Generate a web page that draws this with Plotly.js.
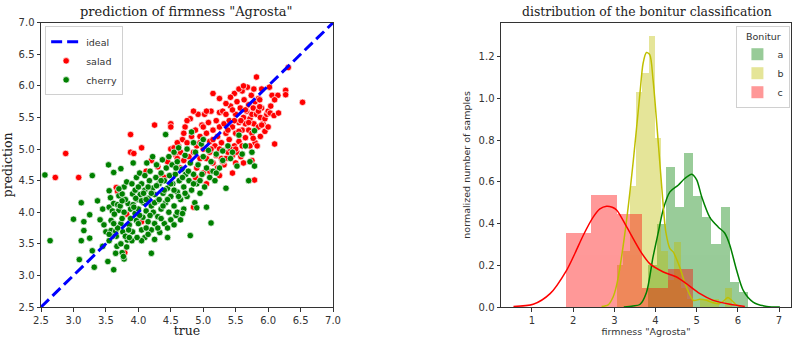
<!DOCTYPE html>
<html><head><meta charset="utf-8">
<script src="https://cdn.plot.ly/plotly-3.0.1.min.js"></script>
<style>html,body{margin:0;padding:0;background:#fff}#chart{width:792px;height:338px}</style>
</head><body><div id="chart"></div>
<script>
// ---------- left panel: prediction vs true ----------
const idealLine = [2.5, 7.0];
const saladPoints = [
[2.72,4.55],[2.88,4.93],[3.08,4.55],[3.66,4.39],[3.68,4.33],[3.79,3.36],[3.82,3.97],[3.88,5.23],[3.88,4.95],[3.93,4.93],
[4.05,5.02],[4.05,3.85],[4.25,5.38],[4.5,5.4],[4.5,5.35],[4.12,4.65],[4.2,4.82],[4.3,4.72],[4.35,4.6],[4.4,4.55],
[4.45,4.8],[4.5,5.0],[4.55,5.02],[4.58,4.9],[4.6,4.85],[4.62,5.05],[4.65,4.95],[4.65,4.7],[4.68,5.15],[4.7,4.82],
[4.72,5.35],[4.75,5.1],[4.78,4.88],[4.8,5.48],[4.82,5.2],[4.85,4.08],[4.85,4.95],[4.88,5.3],[4.9,5.05],[4.9,4.7],
[4.92,5.55],[4.95,5.2],[4.95,4.85],[4.98,5.38],[5.0,5.0],[5.0,4.62],[5.02,5.55],[5.05,5.25],[5.05,4.85],[5.08,5.42],
[5.1,5.12],[5.1,4.95],[5.12,5.6],[5.15,5.88],[5.15,5.3],[5.15,4.78],[5.18,5.05],[5.2,5.45],[5.2,4.9],[5.22,5.2],
[5.25,5.8],[5.25,5.58],[5.25,5.35],[5.28,4.85],[5.28,5.1],[5.3,5.6],[5.32,5.4],[5.32,4.75],[5.35,5.25],[5.35,5.55],
[5.38,4.95],[5.4,5.15],[5.4,5.45],[5.42,5.68],[5.45,5.35],[5.45,4.9],[5.48,5.05],[5.48,5.88],[5.5,5.55],[5.5,5.25],
[5.52,4.95],[5.52,5.75],[5.55,5.42],[5.55,5.12],[5.57,5.65],[5.58,4.88],[5.6,5.3],[5.6,5.92],[5.62,5.5],[5.63,5.78],
[5.65,5.18],[5.65,5.4],[5.67,5.6],[5.68,5.98],[5.7,5.3],[5.7,5.7],[5.72,5.48],[5.72,5.05],[5.74,5.85],[5.75,5.55],
[5.75,5.25],[5.77,5.65],[5.78,5.4],[5.79,4.51],[5.8,5.75],[5.8,5.1],[5.82,6.14],[5.82,5.55],[5.85,5.35],[5.85,5.8],
[5.88,5.5],[5.88,5.2],[5.9,5.65],[5.92,5.4],[5.95,5.28],[5.95,5.48],[5.98,5.55],[6.0,5.6],[6.02,5.98],[6.03,5.57],
[6.04,5.68],[6.06,5.85],[6.09,5.53],[6.10,5.08],[6.16,5.57],[6.15,5.85],[6.27,5.93],[6.27,5.86],[6.31,6.29],[6.53,5.74],
[5.45,5.62],[5.35,5.72],[5.6,5.05],[5.42,5.0],[5.05,5.6],[5.0,5.35],[4.95,5.1],[5.12,5.0],[5.3,4.98],[5.55,5.28],
[5.65,5.62],[5.7,5.42],[5.85,5.6],[5.58,5.45],[5.38,5.3],[5.48,5.45],[5.25,5.0],[5.15,5.15],[4.85,5.6],[4.75,5.45],
[4.6,5.1],[4.7,5.25],[5.1,4.65],[5.22,4.7],[4.95,4.52],[5.05,4.45],[4.88,4.55],[5.35,4.85],[5.75,4.82],[5.62,4.78],
[5.5,5.0],[5.78,5.95],[5.55,5.95],[5.42,5.82],[5.62,6.0],[5.9,5.95],[6.1,5.78],[6.0,5.35],[5.83,5.05],[5.77,5.17],
[5.87,5.67],[5.87,5.78],[5.90,5.38],[5.3,4.8],[5.45,4.62],[5.5,4.78],[5.25,4.58]
];
const cherryPoints = [
[2.56,4.59],[2.64,3.55],[3.0,3.89],[3.09,3.25],[3.12,4.15],[3.12,3.55],[3.16,3.85],[3.16,3.71],[3.25,3.96],[3.25,3.59],
[3.29,3.39],[3.29,4.58],[3.32,3.13],[3.37,4.18],[3.41,3.88],[3.45,4.05],[3.47,3.80],[3.45,3.46],[3.50,3.69],[3.53,3.22],
[3.54,4.75],[3.55,4.34],[3.55,4.08],[3.57,4.23],[3.58,3.87],[3.60,3.69],[3.62,4.63],[3.62,4.14],[3.62,3.09],[3.66,3.62],
[3.67,3.46],[3.70,4.03],[3.70,4.26],[3.73,4.69],[3.73,3.82],[3.75,4.29],[3.76,3.69],[3.78,3.26],[3.83,3.56],[3.84,4.14],
[3.86,3.80],[3.91,4.29],[3.91,3.69],[3.92,4.78],[3.97,3.87],
[3.58,3.71],[3.6,3.62],[3.65,3.7],[3.68,3.75],[3.55,3.65],[3.6,4.02],[3.63,3.97],[3.68,4.12],[3.72,4.1],[3.75,3.9],
[3.78,4.0],[3.78,4.4],[3.8,3.62],[3.8,4.2],[3.82,4.48],[3.82,3.45],[3.85,3.72],[3.88,4.05],[3.88,3.9],[3.9,3.55],
[3.9,4.45],[3.75,3.36],[3.77,3.3],[3.65,3.35],[3.55,3.55],[3.62,3.82],[3.7,4.37],[3.75,4.18],[3.86,3.6],[3.73,3.5],
[3.92,4.12],[3.95,4.35],[3.95,3.98],[3.97,4.55],[3.98,4.2],[4.0,3.82],[4.0,4.05],[4.02,4.62],[4.03,4.28],[4.05,3.72],
[4.05,4.45],[4.07,3.92],[4.08,4.15],[4.1,4.35],[4.1,4.58],[4.1,3.6],[4.12,4.02],[4.13,4.78],[4.15,4.22],[4.15,3.85],
[4.17,4.5],[4.18,4.65],[4.2,3.35],[4.2,3.72],[4.2,4.1],[4.22,4.38],[4.22,4.88],[4.23,4.0],[4.25,3.57],[4.25,4.28],
[4.27,4.55],[4.28,4.75],[4.3,3.93],[4.3,4.18],[4.32,4.45],[4.33,3.68],[4.35,4.62],[4.35,4.05],[4.37,4.83],[4.38,4.3],
[4.4,3.82],[4.4,4.5],[4.42,5.23],[4.42,4.15],[4.43,4.7],[4.45,3.6],[4.45,4.38],[4.47,4.0],[4.47,4.88],[4.48,4.58],
[4.5,4.25],[4.5,3.88],[4.52,4.75],[4.53,4.45],[4.55,4.1],[4.55,4.95],[4.57,4.6],[4.58,3.95],[4.6,4.32],[4.6,4.8],
[4.62,5.02],[4.63,4.5],[4.65,4.2],[4.65,3.88],[4.67,4.68],[4.7,4.4],[4.7,4.05],[4.72,4.9],[4.73,4.6],[4.75,4.25],
[4.75,5.0],[4.78,4.5],[4.8,3.63],[4.8,4.78],[4.82,5.27],[4.82,4.35],[4.85,4.6],[4.87,4.15],[4.88,4.95],[4.9,4.07],
[4.9,4.45],[4.92,4.75],[4.95,4.3],[4.97,5.08],[4.98,4.6],[5.0,4.88],[5.02,4.4],[5.05,4.08],[5.05,4.7],[5.08,4.98],
[5.1,4.55],[5.12,3.83],[5.12,4.8],[5.15,4.65],[5.18,4.5],[5.2,4.92],[5.25,4.7],[5.3,4.82],[5.35,4.38],[5.38,5.05],
[5.42,4.85],[5.45,4.95],[5.52,4.73],[5.55,5.22],[5.6,4.92],[5.65,5.05],[5.7,4.5],[5.72,4.8],[5.75,4.95],[5.79,4.73],
[5.79,5.29],[5.3,4.97],[5.2,4.62],[5.0,5.15],[4.85,5.1],
[3.93,4.08],[3.96,4.22],[4.0,4.4],[4.02,3.95],[4.05,4.18],[4.08,4.3],[4.12,4.2],[4.15,4.4],[4.18,3.95],[4.2,4.3],
[4.25,4.15],[4.28,4.42],[4.32,4.2],[4.35,4.5],[4.38,4.1],[4.4,4.35],[4.45,4.2],[4.5,4.45],[4.55,4.35],[4.58,4.7],
[4.62,4.25],[4.68,4.55],[4.72,4.3],[4.77,4.65],[4.85,4.45],[4.95,4.5],[4.12,3.75],[4.25,3.82],[4.35,3.9],[4.05,3.55],
[3.98,3.6],[4.15,3.65],[4.3,3.75],[4.45,3.75],[4.55,3.8],[4.6,4.0],[4.68,3.98]
];

// ---------- right panel: bonitur distributions ----------
const binEdgesA = [3.81,4.03,4.25,4.47,4.70,4.92,5.14,5.36,5.58,5.81,6.03,6.25];
const densityA  = [0.20,0.40,0.67,0.48,0.74,0.53,0.43,0.30,0.48,0.12,0.07];
const binEdgesB = [3.06,3.215,3.37,3.525,3.68,3.835,3.99,4.145,4.30,4.455,4.61,4.765,4.92,5.075,5.23,5.385,5.54,5.695,5.85];
const densityB  = [0.20,0.27,0.58,1.03,1.12,1.30,0.81,0.27,0.13,0.31,0.09,0.04,0.0,0.04,0.04,0.04,0.0,0.09];
const binEdgesC = [1.82,2.44,3.06,3.68,4.30,4.92];
const densityC  = [0.355,0.536,0.448,0.09,0.18];

const kdeAx = [3.23,3.45,3.62,3.78,3.94,4.07,4.19,4.35,4.55,4.71,4.88,5.0,5.12,5.32,5.52,5.68,5.80,5.97,6.13,6.37,6.70,7.02];
const kdeAy = [0.0,0.005,0.012,0.07,0.24,0.36,0.47,0.552,0.584,0.616,0.637,0.61,0.53,0.43,0.384,0.355,0.30,0.176,0.08,0.024,0.003,0.0];
const kdeBx = [2.69,2.85,2.97,3.05,3.136,3.30,3.46,3.62,3.70,3.78,3.86,3.94,4.07,4.19,4.25,4.35,4.43,4.51,4.59,4.75,4.92,5.08,5.24,5.40,5.55,5.66,5.76,5.86,5.95,6.06];
const kdeBy = [0.002,0.01,0.048,0.10,0.19,0.42,0.70,1.02,1.17,1.22,1.21,1.09,0.78,0.48,0.36,0.28,0.264,0.23,0.19,0.096,0.032,0.037,0.032,0.02,0.016,0.03,0.045,0.03,0.012,0.002];
const kdeCx = [0.55,1.03,1.44,1.84,2.05,2.246,2.49,2.65,2.81,2.95,3.06,3.30,3.62,3.86,4.19,4.51,4.75,5.08,5.40,5.81,6.17];
const kdeCy = [0.003,0.013,0.064,0.176,0.26,0.344,0.432,0.47,0.483,0.478,0.464,0.384,0.272,0.208,0.168,0.144,0.112,0.064,0.032,0.013,0.003];

const bonitur = ['a','b','c'];
const histColors = ['#008000','#bfbf00','#ff0000'];

function centers(e){ return e.slice(0,-1).map((v,i)=>(v+e[i+1])/2); }
function widths(e){ return e.slice(0,-1).map((v,i)=>e[i+1]-v); }

const serif = 'DejaVu Serif, serif';
const sans = 'DejaVu Sans, sans-serif';

const traces = [];
traces.push({type:'scatter', mode:'markers', name:'salad', x:saladPoints.map(p=>p[0]), y:saladPoints.map(p=>p[1]),
  marker:{color:'#ff0000', size:6.5, line:{color:'white', width:0.7}}, xaxis:'x', yaxis:'y', legendrank:2, legend:'legend'});
traces.push({type:'scatter', mode:'markers', name:'cherry', x:cherryPoints.map(p=>p[0]), y:cherryPoints.map(p=>p[1]),
  marker:{color:'#008000', size:6.5, line:{color:'white', width:0.7}}, xaxis:'x', yaxis:'y', legendrank:3, legend:'legend'});
traces.push({type:'scatter', mode:'lines', name:'ideal', x:idealLine, y:idealLine,
  line:{color:'#0000ff', width:3, dash:'11px,5px'}, xaxis:'x', yaxis:'y', legendrank:1, legend:'legend'});

const edges = [binEdgesA, binEdgesB, binEdgesC];
const dens = [densityA, densityB, densityC];
const kx = [kdeAx, kdeBx, kdeCx];
const ky = [kdeAy, kdeBy, kdeCy];
for (let i=0;i<3;i++){
  traces.push({type:'bar', name:bonitur[i], x:centers(edges[i]), y:dens[i], width:widths(edges[i]),
    marker:{color:histColors[i], line:{width:0}}, opacity:0.4, xaxis:'x2', yaxis:'y2', legend:'legend2', legendrank:i+1});
}
for (let i=0;i<3;i++){
  traces.push({type:'scatter', mode:'lines', x:kx[i], y:ky[i], line:{color:histColors[i], width:1.5, shape:'spline', smoothing:0.8},
    showlegend:false, xaxis:'x2', yaxis:'y2', hoverinfo:'skip'});
}

const axBase = {showgrid:false, zeroline:false, showline:true, mirror:true, linecolor:'#333', linewidth:1,
  ticks:'outside', ticklen:3.5, tickwidth:1, tickcolor:'#333', tickfont:{family:sans, size:10, color:'#333'}};

const layout = {
  width:792, height:338, margin:{l:0,r:0,t:0,b:0, autoexpand:false}, paper_bgcolor:'white', plot_bgcolor:'white',
  barmode:'overlay', bargap:0, showlegend:true,
  xaxis:Object.assign({}, axBase, {domain:[0.0518,0.4205], range:[2.5,7.0], tick0:2.5, dtick:0.5, tickformat:'.1f', anchor:'y', automargin:false,
    title:{text:'true', font:{family:serif, size:12.5, color:'#222'}, standoff:3}}),
  yaxis:Object.assign({}, axBase, {domain:[0.0917,0.9328], range:[2.5,7.0], tick0:2.5, dtick:0.5, tickformat:'.1f', anchor:'x', automargin:false,
    title:{text:'prediction', font:{family:serif, size:12.5, color:'#222'}, standoff:8}}),
  xaxis2:Object.assign({}, axBase, {domain:[0.6326,0.9987], range:[0.248,7.29], tick0:1, dtick:1, anchor:'y2', automargin:false,
    title:{text:'firmness "Agrosta"', font:{family:sans, size:9.5, color:'#333'}, standoff:3}}),
  yaxis2:Object.assign({}, axBase, {domain:[0.0917,0.9328], range:[0,1.363], tick0:0, dtick:0.2, tickformat:'.1f', anchor:'x2', automargin:false,
    title:{text:'normalized number of samples', font:{family:sans, size:9.5, color:'#333'}, standoff:6}}),
  legend:{x:0.057, y:0.922, xanchor:'left', yanchor:'top', bgcolor:'rgba(255,255,255,0.8)', bordercolor:'#d0d0d0', borderwidth:1,
    font:{family:sans, size:9.5, color:'#333'}, tracegroupgap:0, itemwidth:30},
  legend2:{x:0.998, y:0.922, xanchor:'right', yanchor:'top', bgcolor:'rgba(255,255,255,0.8)', bordercolor:'#d0d0d0', borderwidth:1,
    font:{family:sans, size:9.5, color:'#333'}, title:{text:'Bonitur', side:'top center', font:{family:sans, size:9.5, color:'#333'}}, tracegroupgap:0, itemwidth:30},
  annotations:[
    {text:'prediction of firmness "Agrosta"', xref:'paper', yref:'paper', x:0.236, y:0.965, xanchor:'center', yanchor:'middle',
      showarrow:false, font:{family:serif, size:13, color:'#222'}},
    {text:'distribution of the bonitur classification', xref:'paper', yref:'paper', x:0.817, y:0.965, xanchor:'center', yanchor:'middle',
      showarrow:false, font:{family:serif, size:12.4, color:'#222'}}
  ]
};

Plotly.newPlot('chart', traces, layout, {displayModeBar:false, staticPlot:true});
</script>
</body></html>
